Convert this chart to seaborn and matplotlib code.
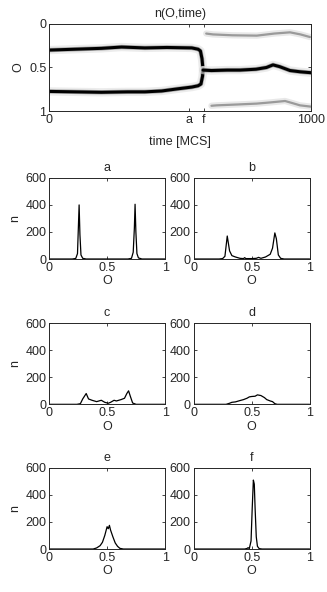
import numpy as np
import pandas as pd
import matplotlib
matplotlib.use('Agg')
import matplotlib.pyplot as plt
import seaborn as sns

sns.set_style('ticks')
plt.rcParams['font.family'] = ['Liberation Sans', 'DejaVu Sans']
plt.rcParams['font.size'] = 9

# ---- top panel: ridge tracks of n(O,time)
time_ticks = [0, 536, 590, 1000]
time_ticklabels = ['0', 'a', 'f', '1000']

upper_t = [0, 100, 200, 277, 366, 450, 545, 569, 578, 584, 588]
upper_O = [0.30, 0.29, 0.28, 0.265, 0.275, 0.27, 0.275, 0.29, 0.31, 0.40, 0.53]
lower_t = [0, 100, 200, 300, 366, 430, 492, 545, 569, 580, 586, 588]
lower_O = [0.775, 0.78, 0.785, 0.78, 0.78, 0.77, 0.745, 0.725, 0.71, 0.69, 0.60, 0.53]
middle_t = [588, 620, 680, 729, 790, 830, 855, 880, 920, 960, 1000]
middle_O = [0.53, 0.535, 0.53, 0.53, 0.52, 0.50, 0.47, 0.49, 0.535, 0.55, 0.56]
faint_up_t = [600, 626, 700, 793, 860, 920, 960, 996]
faint_up_O = [0.11, 0.12, 0.13, 0.134, 0.11, 0.096, 0.12, 0.15]
faint_lo_t = [620, 640, 720, 793, 850, 901, 930, 958, 1000]
faint_lo_O = [0.94, 0.935, 0.925, 0.915, 0.90, 0.885, 0.91, 0.935, 0.95]

# ---- histograms n(O) at times a..f
hist_O = {
    'a': [0, 0.20, 0.23, 0.245, 0.252, 0.259, 0.266, 0.275, 0.29, 0.32,
          0.68, 0.71, 0.725, 0.735, 0.741, 0.748, 0.757, 0.77, 0.80, 1],
    'b': [0, 0.22, 0.25, 0.27, 0.29, 0.31, 0.33, 0.36, 0.40, 0.43, 0.44, 0.45,
          0.50, 0.54, 0.56, 0.58, 0.62, 0.64, 0.66, 0.68, 0.70, 0.713, 0.73,
          0.75, 0.78, 1],
    'c': [0, 0.24, 0.27, 0.29, 0.32, 0.34, 0.37, 0.41, 0.45, 0.48, 0.51,
          0.53, 0.56, 0.58, 0.62, 0.65, 0.67, 0.685, 0.70, 0.72, 0.75, 1],
    'd': [0, 0.28, 0.31, 0.33, 0.36, 0.40, 0.43, 0.46, 0.48, 0.50, 0.53,
          0.55, 0.58, 0.61, 0.63, 0.66, 0.68, 0.70, 0.72, 1],
    'e': [0, 0.38, 0.41, 0.44, 0.46, 0.48, 0.50, 0.51, 0.52, 0.53, 0.55,
          0.57, 0.59, 0.61, 0.64, 1],
    'f': [0, 0.44, 0.46, 0.47, 0.48, 0.495, 0.505, 0.515, 0.523, 0.53,
          0.54, 0.55, 0.565, 0.59, 1],
}
hist_n = {
    'a': [0, 0, 4, 40, 220, 400, 180, 30, 5, 0,
          0, 5, 50, 230, 405, 200, 40, 8, 0, 0],
    'b': [0, 0, 3, 20, 170, 60, 25, 15, 5, 3, 10, 3,
          3, 5, 12, 5, 15, 25, 35, 80, 193, 150, 30,
          5, 0, 0],
    'c': [0, 0, 5, 40, 80, 40, 30, 20, 30, 15, 8,
          15, 30, 25, 35, 45, 80, 100, 60, 10, 0, 0],
    'd': [0, 0, 8, 15, 18, 28, 35, 45, 55, 58, 60,
          70, 65, 50, 35, 25, 20, 5, 0, 0],
    'e': [0, 0, 8, 25, 50, 100, 165, 150, 175, 140, 90,
          45, 20, 5, 0, 0],
    'f': [0, 0, 4, 10, 3, 60, 300, 510, 480, 300,
          90, 20, 3, 0, 0],
}

fig = plt.figure(figsize=(3.27, 5.92), dpi=100)


def style_box(ax):
    ax.tick_params(direction='in', top=True, right=True, length=2.5,
                   width=0.6, pad=2, labelsize=9)
    for s in ax.spines.values():
        s.set_linewidth(0.7)


# top heat-like panel
ax0 = fig.add_axes([0.150, 0.8125, 0.801, 0.147])
bright = [(upper_t, upper_O), (lower_t, lower_O), (middle_t, middle_O)]
faint = [(faint_up_t, faint_up_O), (faint_lo_t, faint_lo_O)]
for t, o in bright:
    df = pd.DataFrame({'t': t, 'O': o})
    sns.lineplot(data=df, x='t', y='O', ax=ax0, color='0.88', lw=6, alpha=0.6)
    sns.lineplot(data=df, x='t', y='O', ax=ax0, color='0.5', lw=3.2, alpha=0.6)
    sns.lineplot(data=df, x='t', y='O', ax=ax0, color='black', lw=2.2)
for t, o in faint:
    df = pd.DataFrame({'t': t, 'O': o})
    sns.lineplot(data=df, x='t', y='O', ax=ax0, color='0.85', lw=4.5, alpha=0.6)
    sns.lineplot(data=df, x='t', y='O', ax=ax0, color='0.4', lw=1.6, alpha=0.6)
ax0.set_xlim(0, 1000)
ax0.set_ylim(1, 0)
ax0.set_xticks(time_ticks)
ax0.set_xticklabels(time_ticklabels)
ax0.set_yticks([0, 0.5, 1])
ax0.set_yticklabels(['0', '0.5', '1'])
ax0.set_xlabel('time [MCS]', labelpad=7)
ax0.set_ylabel('O', labelpad=3)
ax0.set_title('n(O,time)', fontsize=9, pad=5)
style_box(ax0)

# histogram panels
lefts = [0.150, 0.592]
rows = [0.5625, 0.317, 0.0726]
letters = ['a', 'b', 'c', 'd', 'e', 'f']
for i, key in enumerate(letters):
    ax = fig.add_axes([lefts[i % 2], rows[i // 2], 0.355, 0.137])
    df = pd.DataFrame({'O': hist_O[key], 'n': hist_n[key]})
    sns.lineplot(data=df, x='O', y='n', ax=ax, color='black', lw=0.9)
    ax.set_xlim(0, 1)
    ax.set_ylim(0, 600)
    ax.set_xticks([0, 0.5, 1])
    ax.set_xticklabels(['0', '0.5', '1'])
    ax.set_yticks([0, 200, 400, 600])
    ax.set_xlabel('O', labelpad=1)
    ax.set_ylabel('n' if i % 2 == 0 else '', labelpad=3)
    ax.set_title(key, fontsize=9, pad=5)
    style_box(ax)

fig.savefig('out.png', dpi=100)
